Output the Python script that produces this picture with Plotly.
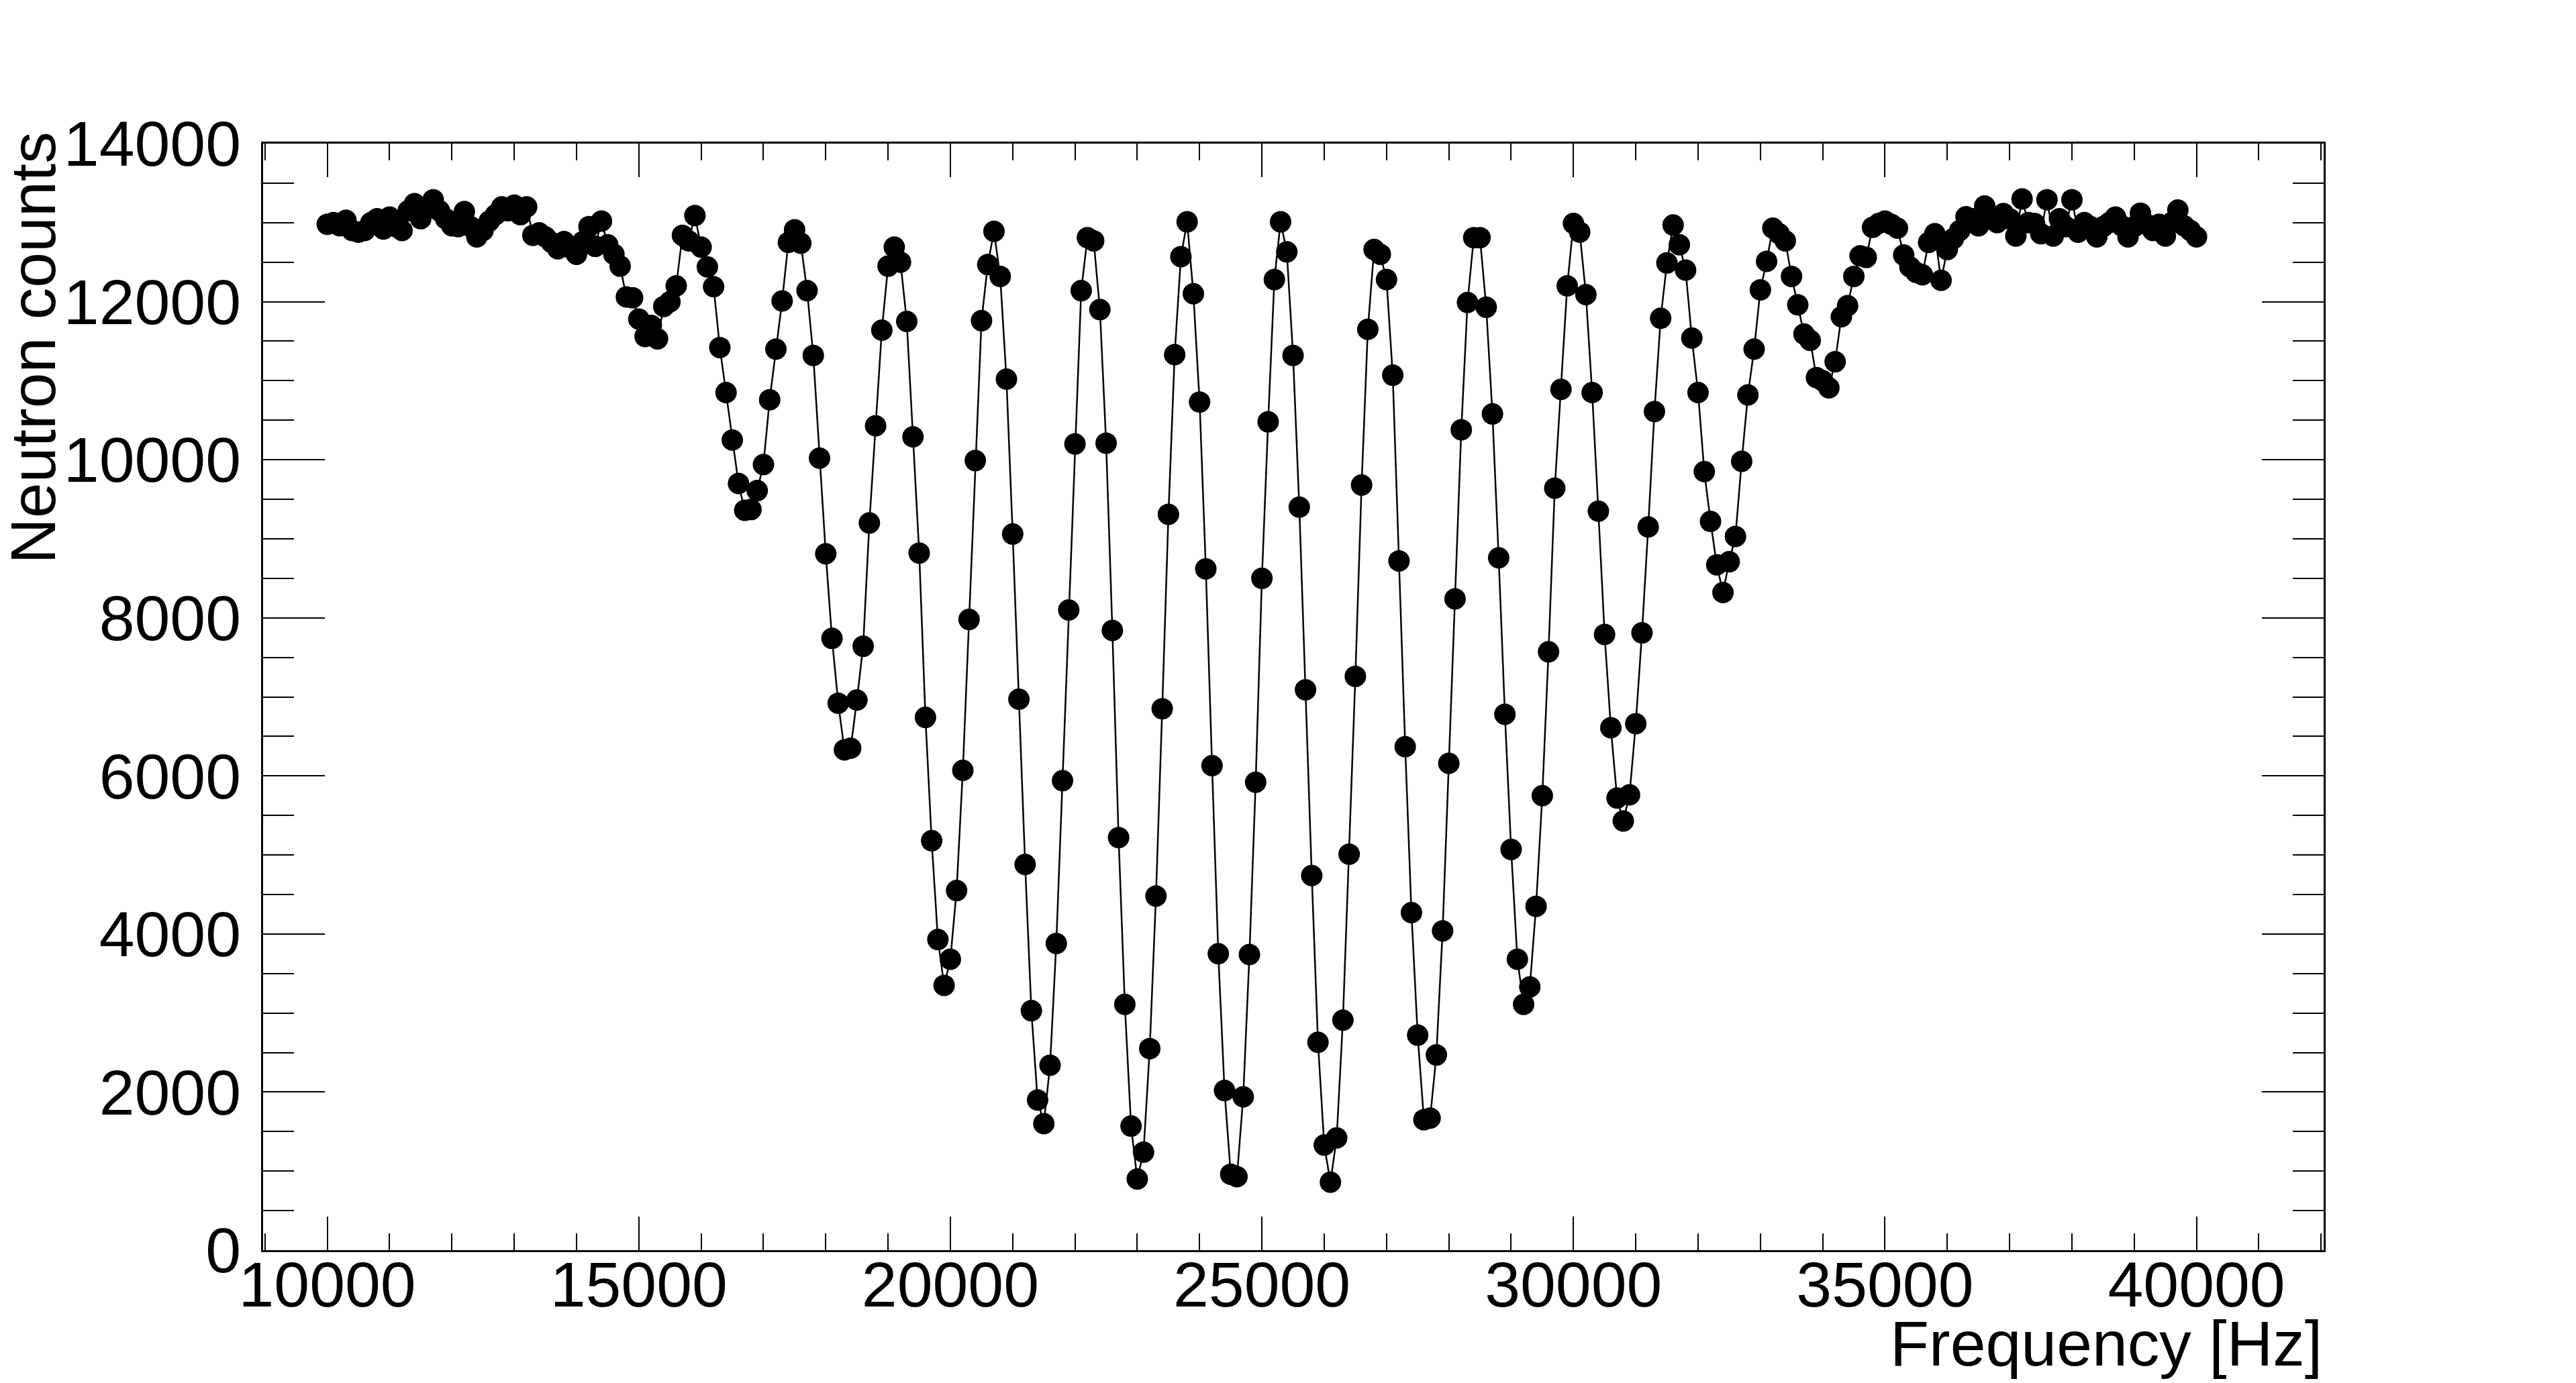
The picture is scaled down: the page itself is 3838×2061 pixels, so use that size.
import plotly.graph_objects as go

# Frequency grid (Hz): 10000 .. 40000 in 100 Hz steps
freq = list(range(10000, 40001, 100))

# Neutron counts, by segment
counts_10k = [12980, 13000, 12960, 13030, 12900, 12880, 12900, 13000, 13050, 12920,
              13070, 12950, 12900, 13150, 13240, 13050, 13200, 13290, 13150, 13050,
              12960, 12950, 13140, 12950, 12820, 12900, 13020, 13100, 13200, 13150,
              13220, 13100, 13200, 12840, 12870, 12820, 12750, 12670, 12760, 12680,
              12600, 12760, 12950, 12700, 13020, 12720, 12600, 12450, 12060, 12050]
counts_15k = [11780, 11560, 11700, 11530, 11940, 12000, 12200, 12840, 12770, 13090,
              12690, 12440, 12190, 11420, 10850, 10250, 9700, 9360, 9370, 9610,
              9940, 10760, 11400, 12010, 12750, 12910, 12740, 12140, 11320, 10020,
              8810, 7740, 6920, 6330, 6350, 6960, 7640, 9200, 10430, 11640,
              12450, 12690, 12500, 11750, 10290, 8820, 6740, 5180, 3930, 3350]
counts_20k = [3680, 4550, 6070, 7980, 9990, 11760, 12470, 12890, 12320, 11020,
              9060, 6970, 4880, 3030, 1900, 1600, 2340, 3880, 5940, 8100,
              10200, 12140, 12810, 12770, 11900, 10210, 7840, 5220, 3110, 1570,
              900, 1240, 2550, 4480, 6850, 9310, 11330, 12570, 13010, 12100,
              10730, 8620, 6130, 3750, 2020, 960, 930, 1940, 3740, 5920]
counts_25k = [8500, 10480, 12280, 13010, 12630, 11320, 9400, 7090, 4740, 2630,
              1330, 860, 1420, 2910, 5010, 7260, 9680, 11650, 12660, 12600,
              12280, 11070, 8720, 6370, 4270, 2720, 1650, 1670, 2470, 4040,
              6160, 8240, 10380, 11990, 12810, 12810, 11930, 10580, 8760, 6780,
              5070, 3680, 3110, 3330, 4350, 5750, 7570, 9640, 10890, 12200]
counts_30k = [12990, 12880, 12090, 10850, 9350, 7790, 6610, 5720, 5430, 5760,
              6660, 7810, 9150, 10610, 11790, 12490, 12970, 12720, 12400, 11540,
              10850, 9850, 9220, 8670, 8320, 8710, 9030, 9980, 10820, 11400,
              12150, 12510, 12930, 12860, 12770, 12320, 11960, 11590, 11510, 11040,
              11000, 10910, 11240, 11810, 11950, 12320, 12580, 12560, 12940, 12990]
counts_35k = [13020, 12980, 12930, 12590, 12440, 12370, 12340, 12750, 12860, 12270,
              12660, 12800, 12900, 13075, 13050, 12960, 13210, 13050, 13000, 13115,
              13050, 12830, 13300, 13000, 12990, 12860, 13290, 12830, 13050, 12950,
              13290, 12880, 13000, 12950, 12820, 12950, 13000, 13070, 12960, 12820,
              12950, 13120, 12980, 12900, 12980, 12830, 13000, 13160, 12960, 12900,
              12820]

counts = counts_10k + counts_15k + counts_20k + counts_25k + counts_30k + counts_35k

x_title = "Frequency [Hz]"
y_title = "Neutron counts"

FONT = "Liberation Sans, Arial, Helvetica, sans-serif"

fig = go.Figure(
    go.Scatter(
        x=freq, y=counts, mode="lines+markers",
        line=dict(color="black", width=2.5),
        marker=dict(color="black", size=32, symbol="circle"),
        showlegend=False,
    )
)

axis_common = dict(
    showgrid=False, zeroline=False,
    showline=True, linecolor="black", linewidth=3, mirror="ticks",
    ticks="inside", tickcolor="black", tickwidth=1.5,
    tickformat="d",
    tickfont=dict(family=FONT, size=95, color="black"),
)

fig.update_layout(
    width=3838, height=2061, autosize=False,
    margin=dict(l=384, r=384, t=206, b=206, pad=0),
    paper_bgcolor="white", plot_bgcolor="white",
    xaxis=dict(
        range=[8970, 42040], tick0=10000, dtick=5000, ticklen=50,
        minor=dict(ticks="inside", ticklen=25, tick0=10000, dtick=1000,
                   tickcolor="black", tickwidth=1.5),
        ticklabelstandoff=-33,
        **axis_common,
    ),
    yaxis=dict(
        range=[0, 14000], tick0=0, dtick=2000, ticklen=92,
        minor=dict(ticks="inside", ticklen=46, tick0=0, dtick=500,
                   tickcolor="black", tickwidth=1.5),
        ticklabelstandoff=11,
        **axis_common,
    ),
    annotations=[
        dict(text=x_title, xref="paper", yref="paper", x=1.0, y=-0.0845,
             xanchor="right", yanchor="middle", showarrow=False,
             font=dict(family=FONT, size=95, color="black")),
        dict(text=y_title, xref="paper", yref="paper", x=-0.1116, y=1.012,
             xanchor="center", yanchor="top", textangle=-90, showarrow=False,
             font=dict(family=FONT, size=95, color="black")),
    ],
)

fig.write_html("out.html")
